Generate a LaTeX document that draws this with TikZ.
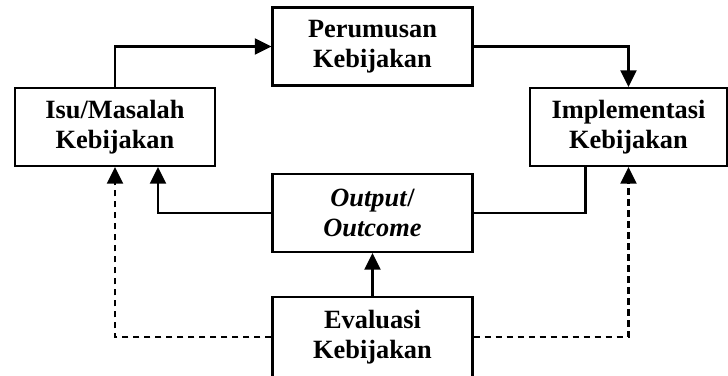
\documentclass[tikz,border=0pt]{standalone}
\usepackage{fontspec}
\setmainfont{Liberation Serif}
\usepackage{tikz}
\usetikzlibrary{shapes,arrows.meta,positioning}
\tikzstyle{box} = [rectangle, draw, line width=1.8pt, inner sep=0pt, minimum width=6cm, minimum height=2.34cm, align=center, font=\fontsize{22.5}{26}\selectfont\bfseries]
\tikzstyle{wire} = [draw, line width=1.8pt]
\tikzstyle{line} = [wire, -{Triangle[length=0.5cm,width=0.48cm]}]
\tikzstyle{dline} = [line, dash pattern=on 0.2cm off 0.13cm]

\begin{document}
\begin{tikzpicture}[x=0.03cm, y=-0.03cm]
			\useasboundingbox (0,0) rectangle (728,376);
			\node [box] (perum) at (372.5, 46.5) {Perumusan\\Kebijakan};
			\node [box] (isu) at (115, 127) {Isu/Masalah\\Kebijakan};
			\node [box, minimum width=5.91cm] (impl) at (628.5, 127) {Implementasi\\Kebijakan};
			\node [box] (out) at (372.5, 213) {\textit{Output}/\\\textit{Outcome}};
			\node [box, minimum height=2.4cm] (eval) at (372.5, 337) {Evaluasi\\Kebijakan};
			
			\path [line] (isu.north) |- (perum.west);
			\path [line] (perum.east) -| (impl.north);
			\path [wire] ([xshift=-1.29cm]impl.south) |- (out.east);
			\path [line] (out.west) -| ([xshift=1.29cm]isu.south);
			\path [line] (eval.north) -- (out.south);
			\path [dline] (eval.west) -| (isu.south);
			\path [dline] (eval.east) -| (impl.south);
		\end{tikzpicture}
\end{document}
